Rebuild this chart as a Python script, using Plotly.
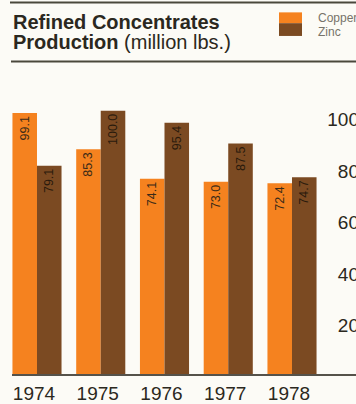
import plotly.graph_objects as go

years = ["1974", "1975", "1976", "1977", "1978"]
copper = [99.1, 85.3, 74.1, 73.0, 72.4]
zinc = [79.1, 100.0, 95.4, 87.5, 74.7]
tick_vals = [20, 40, 60, 80, 100]

W, H = 356, 404
L, R, T, B = 12, 0, 90, 25
PW, PH = W - L - R, H - T - B

def px(x):
    return (x - L) / PW

def py(y):
    return (H - B - y) / PH

COPPER = "#F5821F"
ZINC = "#7B4A22"
BG = "#FCFBF6"
TXT = "#2b2820"

xs = list(range(len(years)))

fig = go.Figure()
fig.add_trace(go.Bar(x=xs, y=copper, name="Copper", marker_color=COPPER,
                     marker_line_width=0, texttemplate="%{y:.1f}",
                     textposition="inside", insidetextanchor="end", textangle=-90,
                     textfont=dict(size=12.5, color="#3a2a18", family="Liberation Sans")))
fig.add_trace(go.Bar(x=xs, y=zinc, name="Zinc", marker_color=ZINC,
                     marker_line_width=0, texttemplate="%{y:.1f}",
                     textposition="inside", insidetextanchor="end", textangle=-90,
                     textfont=dict(size=12.5, color="#2a1a0c", family="Liberation Sans")))
# invisible trace for right axis ticks
fig.add_trace(go.Scatter(x=[xs[0]], y=[tick_vals[0]], yaxis="y2", mode="markers",
                         marker=dict(opacity=0), hoverinfo="skip", showlegend=False))

fig.update_layout(
    width=W, height=H,
    margin=dict(l=L, r=R, t=T, b=B),
    paper_bgcolor=BG, plot_bgcolor=BG,
    barmode="group", bargap=0.23, bargroupgap=0,
    showlegend=False,
    uniformtext=dict(minsize=12, mode="show"),
    font=dict(family="Liberation Sans", color=TXT),
    xaxis=dict(range=[-0.392, 5.004], tickmode="array", tickvals=xs, ticktext=years,
               showline=True, linecolor="#55524a", linewidth=1.5, showgrid=False,
               zeroline=False, ticks="", ticklabelshift=-3, ticklabelstandoff=1,
               tickfont=dict(size=19, color=TXT)),
    yaxis=dict(range=[0, PH / 2.68], showticklabels=False, showgrid=False,
               zeroline=False, showline=False, ticks=""),
    yaxis2=dict(overlaying="y", side="left", anchor="free", position=1,
                range=[1.33, 111.4],
                tickmode="array", tickvals=tick_vals,
                ticklabelposition="outside", ticklabelstandoff=-3,
                showgrid=False, zeroline=False, showline=False, ticks="",
                tickfont=dict(size=19, color=TXT)),
)

# header rules
for yy, x0 in [(1, 10), (61, 11)]:
    fig.add_shape(type="line", xref="paper", yref="paper",
                  x0=px(x0), x1=px(W + 5), y0=py(yy), y1=py(yy),
                  line=dict(color="#4a483c", width=2))

# title
fig.add_annotation(xref="paper", yref="paper", x=px(11), y=py(21),
                   xanchor="left", yanchor="middle", showarrow=False,
                   text="<b>Refined Concentrates</b>",
                   font=dict(size=20, color=TXT))
fig.add_annotation(xref="paper", yref="paper", x=px(11), y=py(41),
                   xanchor="left", yanchor="middle", showarrow=False,
                   text="<b>Production</b> <span style='font-size:20px'>(million lbs.)</span>",
                   font=dict(size=20, color=TXT))

# legend swatches
fig.add_shape(type="rect", xref="paper", yref="paper", x0=px(279), x1=px(302),
              y0=py(11), y1=py(22), fillcolor=COPPER, line_width=0)
fig.add_shape(type="rect", xref="paper", yref="paper", x0=px(279), x1=px(302),
              y0=py(22), y1=py(35), fillcolor=ZINC, line_width=0)
fig.add_annotation(xref="paper", yref="paper", x=px(316), y=py(17),
                   xanchor="left", yanchor="middle", showarrow=False,
                   text="Copper", font=dict(size=12, color="#77736a"))
fig.add_annotation(xref="paper", yref="paper", x=px(316), y=py(31),
                   xanchor="left", yanchor="middle", showarrow=False,
                   text="Zinc", font=dict(size=12, color="#77736a"))

fig.write_html("out.html")
